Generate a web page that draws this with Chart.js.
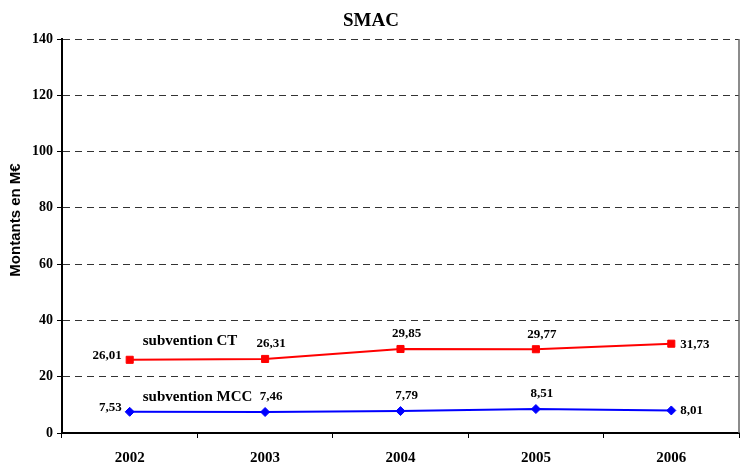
<!DOCTYPE html>
<html>
<head>
<meta charset="utf-8">
<script src="https://cdn.jsdelivr.net/npm/chart.js@4/dist/chart.umd.min.js"></script>
<style>
  html, body { margin: 0; padding: 0; background: #fff; }
  #c { display: block; }
</style>
</head>
<body>
<canvas id="c" width="745" height="462"></canvas>
<script>
// ---- data ----
const years = ['2002', '2003', '2004', '2005', '2006'];
const subventionCT = [26.01, 26.31, 29.85, 29.77, 31.73];
const subventionMCC = [7.53, 7.46, 7.79, 8.51, 8.01];
const seriesNames = ['subvention CT', 'subvention MCC'];
const yMin = 0, yMax = 140, yStep = 20;
const chartTitle = 'SMAC';
const yAxisTitle = 'Montants en M€';

const SERIF = "'Liberation Serif', 'Times New Roman', serif";
const SANS = "'Liberation Sans', Arial, sans-serif";

function fmt(v) { return v.toFixed(2).replace('.', ','); }

const valueLabels = {
  id: 'valueLabels',
  afterDatasetsDraw(chart) {
    const ctx = chart.ctx;
    ctx.save();
    ctx.font = 'bold 13px ' + SERIF;
    ctx.fillStyle = '#000';
    ctx.textBaseline = 'middle';
    chart.data.datasets.forEach((ds, di) => {
      const meta = chart.getDatasetMeta(di);
      const n = meta.data.length;
      meta.data.forEach((pt, i) => {
        const txt = fmt(ds.data[i]);
        let x = pt.x, y = pt.y;
        if (i === 0) { ctx.textAlign = 'right'; x -= 8; y -= 4; }
        else if (i === n - 1) { ctx.textAlign = 'left'; x += 9; y += 0.5; }
        else { ctx.textAlign = 'center'; x += 6; y -= 15; }
        ctx.fillText(txt, x, y);
      });
    });
    ctx.restore();
  }
};

const extras = {
  id: 'extras',
  afterDraw(chart) {
    const ctx = chart.ctx;
    const a = chart.chartArea;
    const xs = chart.scales.x, ys = chart.scales.y;
    ctx.save();
    // right frame line
    ctx.strokeStyle = '#666';
    ctx.lineWidth = 1.5;
    ctx.beginPath();
    ctx.moveTo(a.right, a.top);
    ctx.lineTo(a.right, a.bottom);
    ctx.stroke();
    // series name labels
    ctx.fillStyle = '#000';
    ctx.font = 'bold 15px ' + SERIF;
    ctx.textAlign = 'left';
    ctx.textBaseline = 'middle';
    const lx = xs.getPixelForValue(0) + 13;
    ctx.fillText(chart.data.datasets[0].label, lx, ys.getPixelForValue(32.6));
    ctx.fillText(chart.data.datasets[1].label, lx, ys.getPixelForValue(12.8));
    // y axis title
    ctx.font = 'bold 15px ' + SANS;
    ctx.textAlign = 'center';
    ctx.translate(16, 220);
    ctx.rotate(-Math.PI / 2);
    ctx.fillText(yAxisTitle, 0, 0);
    ctx.restore();
  }
};

new Chart(document.getElementById('c'), {
  type: 'line',
  data: {
    labels: years,
    datasets: [
      {
        label: seriesNames[0],
        data: subventionCT,
        borderColor: '#FF0000',
        backgroundColor: '#FF0000',
        borderWidth: 2,
        pointStyle: 'rect',
        pointRadius: 5,
        pointBorderWidth: 1,
        tension: 0
      },
      {
        label: seriesNames[1],
        data: subventionMCC,
        borderColor: '#0000FF',
        backgroundColor: '#0000FF',
        borderWidth: 2,
        pointStyle: 'rectRot',
        pointRadius: 4.5,
        pointBorderWidth: 1,
        tension: 0
      }
    ]
  },
  options: {
    responsive: false,
    animation: false,
    devicePixelRatio: 1,
    layout: { padding: { left: 0, right: 3, top: 0, bottom: 0 } },
    plugins: {
      legend: { display: false },
      tooltip: { enabled: false },
      title: {
        display: true,
        text: chartTitle,
        color: '#000',
        font: { family: SERIF, size: 19, weight: 'bold' },
        padding: { top: 9.6, bottom: 6.6 }
      }
    },
    scales: {
      x: {
        type: 'category',
        offset: true,
        grid: { display: true, drawOnChartArea: false, offset: true, tickLength: 5, color: '#000', lineWidth: 1 },
        border: { display: true, color: '#000', width: 2 },
        ticks: { color: '#000', font: { family: SERIF, size: 15, weight: 'bold' }, padding: 11, maxRotation: 0 },
        afterFit(s) { s.height = 29; }
      },
      y: {
        min: yMin,
        max: yMax,
        ticks: { stepSize: yStep, color: '#000', font: { family: SERIF, size: 14, weight: 'bold' }, padding: 4 },
        grid: { color: '#333', lineWidth: 1, tickLength: 5, tickColor: '#000', tickBorderDash: [] },
        border: { display: true, color: '#000', width: 2, dash: [7, 5] },
        afterFit(s) { s.width = 62; }
      }
    }
  },
  plugins: [valueLabels, extras]
});
</script>
</body>
</html>
